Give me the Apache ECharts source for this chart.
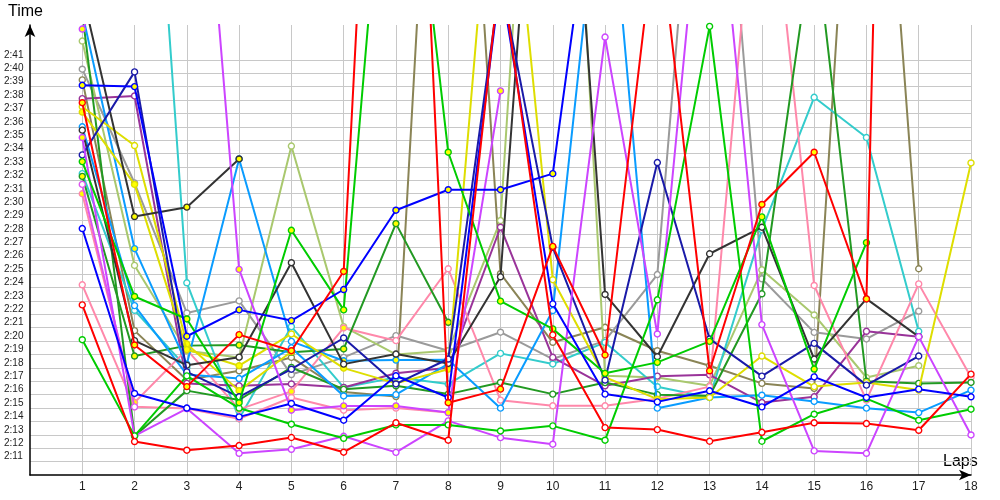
<!DOCTYPE html>
<html><head><meta charset="utf-8">
<script src="https://cdn.jsdelivr.net/npm/echarts@6/dist/echarts.min.js"></script>
<style>html,body{margin:0;padding:0;background:#fff}#c{width:1000px;height:500px}</style>
</head><body><div id="c"></div>
<script>
// Laps (x categories)
const laps = [1,2,3,4,5,6,7,8,9,10,11,12,13,14,15,16,17,18];
// Y tick label range (seconds): 2:11 .. 2:41
const yLabelFirst = 131;
const yLabelLast = 161;

// Lap times in seconds (values above the plot top are off-chart laps)
const redA = [142.7,132.5,131.85,132.2,132.8,131.7,133.9,132.6,168,140.46,133.54,133.39,132.52,133.19,133.9,133.84,133.34,137.53];
const redB = [157.8,139.71,136.6,140.48,139.28,145.2,220,135.4,136.41,147.07,138.96,172,137.78,150.2,154.1,143.15,303];
const blueA = [159.1,159.0,140.36,142.33,141.53,143.85,149.77,151.3,151.3,152.5,181];
const blueB = [148.4,136.09,135.0,134.34,135.34,134.09,137.41,135.79,167,142.78,136.04,135.46,136.29,135.09,137.33,135.79,136.41,135.84];
const navy = [153.9,160.1,137.7,135.84,137.9,140.23,136.8,138.66,167,147.0,137.09,153.33,140.16,137.38,139.83,136.71,138.88];
const lightBlueA = [156.0,142.65,137.5,137.2,139.5,135.9,136.0,138.3];
const lightBlueB = [164.5,146.9,138.28,153.6,139.98,138.53,138.58,138.6,134.99,142.28,178.5,134.99,135.79,135.96,135.49,134.99,134.66,136.34];
const cyanA = [152.5,142.3,138.0];
const cyanB = [205,200,144.35,134.2,141.08,136.54,137.29,136.79,139.08,138.29,139.9,136.59,135.79,148.3,158.2,155.2,140.73];
const greenA = [140.1,132.92,137.4,135.0,133.79,132.74,133.74,133.74,133.29,133.67,132.6,143.08,163.5,132.52,134.54,135.7,134.09,134.91];
const greenB = [153.4,143.33,141.65,135.4,148.27,142.33,188,154.1,142.98,140.91,137.59,138.41,139.98,149.27,137.91,147.35];
const darkGreenA = [152.3,138.88,139.66,139.7,139.16,139.41,148.77,141.4];
const darkGreenB = [164.5,132.92,136.3,135.6,138.03,136.4,136.66,136.04,136.91,136.04,136.9,136.0,135.9,143.53,170.8,137.0,136.84,136.91];
const lightOlive = [162.4,145.65,139.28,138.78,154.56,141.08,139.0,139.28,149.0,210,137.41,137.28,136.66,145.32,141.95,137.28,138.16];
const olive = [159.5,140.78,137.1,137.78,138.78,136.2,135.86,205,145.03,139.91,141.03,139.28,138.16,136.84,136.46,198,145.4];
const gray = [160.3,151.8,142.1,143.0,137.5,138.78,140.41,139.28,140.66,138.66,140.03,144.97,192,144.65,140.65,140.16,142.23];
const darkGrayA = [155.75,140.03,138.2,138.8,145.85,138.28,139.03,138.33,144.8,198,143.48,138.83,146.52,148.5,138.66,143.15,140.33];
const darkGrayB = [166,149.3,150.0,153.6];
const violetA = [163.3,170,193,145.35,134.84,135.16,135.16,134.66,158.68];
const violetB = [155.2,132.92,134.96,131.62,131.92,132.89,131.69,134.04,132.79,132.3,162.7,140.53,181,141.23,131.8,131.62,140.33,132.99];
const violetC = [151.7,135.09];
const purple = [158.1,158.3,136.84,136.66,136.8,136.54,137.6,138.0,148.5,138.79,136.66,137.38,137.48,135.41,135.84,140.73,140.33];
const pinkA = [151.0,135.41,139.36,134.9,136.24,140.98,140.03,145.4,135.59,135.17,135.17,135.7,136.6,181,144.15,135.59,144.27,137.3];
const pinkB = [144.2,135.09,134.96,134.2,135.79,134.84,135.0,134.66];
const yellowA = [157.1,151.7,139.36,138.16,140.53,137.98,136.84,137.9,184,144.58,137.3,135.66,135.79,138.88,136.6,136.9,136.34,153.3];
const yellowB = [157.5,154.6,139.78,136.3,139.2];

// Laps flagged with a filled (yellow) marker
const redB_flag = [1,2,3,4,5,6,8,9,10,11,13,14,15,16];
const blueA_flag = [1,2,3,4,5,6,7,8,9,10];
const lightBlueB_flag = [2,3,6,7];
const greenB_flag = [1,2,3,4,5,6,8,9,10,11,12,13,14,15,16];
const darkGreenA_flag = [1,2,3,4,5,6,7,8];
const darkGrayB_flag = [2,3,4];
const violetA_flag = [1,4,5,6,7,8,9];
const violetB_flag = [1];
const pinkA_flag = [1,2,4,5,6];
const yellowA_flag = [1,2,3,4,6,7,8,12];
const yellowB_flag = [3,4,5];
const none = [];

const defs = [
  ['Olive', '#8a8456', olive, none],
  ['Gray', '#9a9a9a', gray, none],
  ['Light olive', '#a9c86e', lightOlive, none],
  ['Cyan A', '#33cccc', cyanA, none],
  ['Cyan B', '#33cccc', cyanB, none],
  ['Purple', '#993399', purple, none],
  ['Pink B', '#ff88aa', pinkB, none],
  ['Pink A', '#ff88aa', pinkA, pinkA_flag],
  ['Dark green B', '#229922', darkGreenB, none],
  ['Dark green A', '#229922', darkGreenA, darkGreenA_flag],
  ['Light blue A', '#0a9cff', lightBlueA, none],
  ['Light blue B', '#0a9cff', lightBlueB, lightBlueB_flag],
  ['Yellow B', '#dede00', yellowB, yellowB_flag],
  ['Yellow A', '#dede00', yellowA, yellowA_flag],
  ['Dark gray A', '#333333', darkGrayA, none],
  ['Dark gray B', '#333333', darkGrayB, darkGrayB_flag],
  ['Navy', '#1a1aa8', navy, none],
  ['Violet C', '#dd55ee', violetC, none],
  ['Violet A', '#cc44ff', violetA, violetA_flag],
  ['Violet B', '#cc44ff', violetB, violetB_flag],
  ['Green A', '#00cc00', greenA, none],
  ['Green B', '#00cc00', greenB, greenB_flag],
  ['Blue B', '#0000ff', blueB, none],
  ['Blue A', '#0000ff', blueA, blueA_flag],
  ['Red A', '#ff0000', redA, none],
  ['Red B', '#ff0000', redB, redB_flag]
];

const fmt = v => Math.floor(v / 60) + ':' + String(v % 60).padStart(2, '0');

const yGridColors = [];
for (let v = 130; v <= 164; v++) yGridColors.push(v >= yLabelFirst && v <= yLabelLast ? '#c8c8c8' : 'rgba(0,0,0,0)');
const xGridColors = [];
for (let v = 0; v <= laps[laps.length - 1]; v++) xGridColors.push(v >= 1 ? '#c8c8c8' : 'rgba(0,0,0,0)');

const series = defs.map(([name, color, vals, flag], k) => ({
  type: 'line', name, color,
  data: vals.map((v, i) => ({
    value: [laps[i], v],
    itemStyle: { color: flag.includes(laps[i]) ? '#ffff00' : '#ffffff', borderColor: color, borderWidth: 1.4 }
  })),
  symbol: 'circle', symbolSize: 6, showAllSymbol: true,
  lineStyle: { color, width: 2 },
  emphasis: { disabled: true },
  clip: true, z: 2 + k * 0.01
}));

const chart = echarts.init(document.getElementById('c'), null, { renderer: 'canvas' });
chart.setOption({
  animation: false,
  backgroundColor: '#ffffff',
  grid: { left: 30, right: 29, top: 25, bottom: 25, containLabel: false },
  xAxis: {
    type: 'value', min: 0, max: laps[laps.length - 1], interval: 1,
    axisLine: { show: true, lineStyle: { color: '#000', width: 1.5 }, symbol: ['none', 'arrow'], symbolSize: [8, 12] },
    axisTick: { show: false },
    axisLabel: { formatter: v => (v >= 1 && Number.isInteger(v)) ? String(v) : '', margin: 6, fontSize: 12, color: '#222', fontFamily: 'Liberation Sans, Arial, sans-serif' },
    splitLine: { show: true, lineStyle: { color: xGridColors, width: 1 } }
  },
  yAxis: {
    type: 'value', min: 130, max: 163.6, interval: 1,
    axisLine: { show: true, lineStyle: { color: '#000', width: 1.5 }, symbol: ['none', 'arrow'], symbolSize: [8, 12] },
    axisTick: { show: false },
    axisLabel: {
      formatter: v => (Number.isInteger(v) && v >= yLabelFirst && v <= yLabelLast) ? fmt(v) : '',
      align: 'left', margin: 26, verticalAlign: 'bottom', fontSize: 10, color: '#222',
      fontFamily: 'Liberation Sans, Arial, sans-serif'
    },
    splitLine: { show: true, showMaxLine: false, lineStyle: { color: yGridColors, width: 1 } }
  },
  graphic: [
    { type: 'text', left: 8, top: 4, style: { text: 'Time', fontSize: 16, fill: '#000', fontFamily: 'Liberation Sans, sans-serif' } },
    { type: 'text', left: 943, top: 454, style: { text: 'Laps', fontSize: 16, fill: '#000', fontFamily: 'Liberation Sans, sans-serif' } }
  ],
  series
});
</script>
</body></html>
